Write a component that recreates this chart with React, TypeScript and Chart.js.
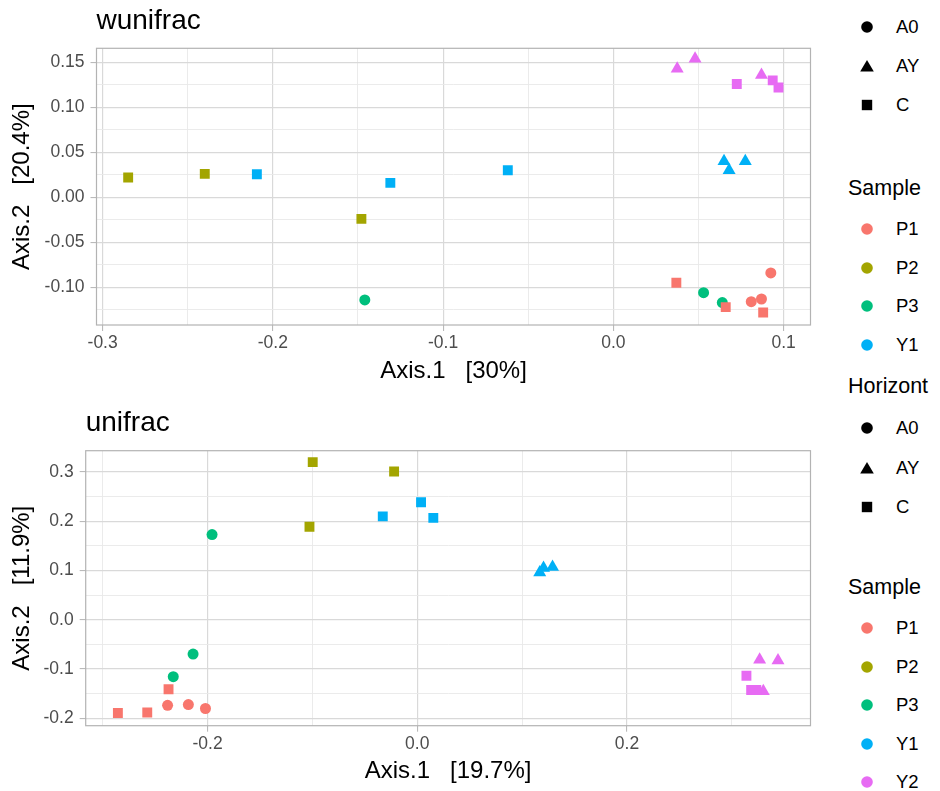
import React, { useEffect, useRef } from 'react';
import { Chart, registerables } from 'chart.js';

Chart.register(...registerables);

const FONT = '"Liberation Sans", Arial, Helvetica, sans-serif';

// ---------- data ----------
const samples = ['P1', 'P2', 'P3', 'Y1', 'Y2'];
const horizons = ['A0', 'AY', 'C'];
const sampleColors = ['#F8766D', '#A3A500', '#00BF7D', '#00B0F6', '#E76BF3'];

// wunifrac ordination: [Axis.1, Axis.2, Horizont]
const wuP1: [number, number, string][] = [
  [0.081, -0.116, 'A0'], [0.087, -0.113, 'A0'], [0.0925, -0.084, 'A0'],
  [0.037, -0.095, 'C'], [0.066, -0.122, 'C'], [0.088, -0.128, 'C'],
];
const wuP2: [number, number, string][] = [
  [-0.285, 0.022, 'C'], [-0.24, 0.026, 'C'], [-0.148, -0.024, 'C'],
];
const wuP3: [number, number, string][] = [
  [-0.146, -0.114, 'A0'], [0.053, -0.106, 'A0'], [0.064, -0.117, 'A0'],
];
const wuY1: [number, number, string][] = [
  [0.065, 0.04, 'AY'], [0.068, 0.03, 'AY'], [0.0775, 0.04, 'AY'],
  [-0.2094, 0.0256, 'C'], [-0.131, 0.016, 'C'], [-0.062, 0.03, 'C'],
];
const wuY2: [number, number, string][] = [
  [0.0375, 0.143, 'AY'], [0.048, 0.154, 'AY'], [0.087, 0.136, 'AY'],
  [0.0725, 0.126, 'C'], [0.0936, 0.13, 'C'], [0.097, 0.122, 'C'],
];

// unifrac ordination
const uP1: [number, number, string][] = [
  [-0.2381, -0.1736, 'A0'], [-0.2183, -0.172, 'A0'], [-0.202, -0.18, 'A0'],
  [-0.2855, -0.189, 'C'], [-0.2575, -0.188, 'C'], [-0.2372, -0.141, 'C'],
];
const uP2: [number, number, string][] = [
  [-0.0997, 0.32, 'C'], [-0.0221, 0.301, 'C'], [-0.1028, 0.189, 'C'],
];
const uP3: [number, number, string][] = [
  [-0.1957, 0.173, 'A0'], [-0.2138, -0.0696, 'A0'], [-0.2327, -0.1155, 'A0'],
];
const uY1: [number, number, string][] = [
  [0.1168, 0.096, 'AY'], [0.1204, 0.105, 'AY'], [0.129, 0.107, 'AY'],
  [0.0036, 0.2385, 'C'], [-0.0329, 0.21, 'C'], [0.0153, 0.2068, 'C'],
];
const uY2: [number, number, string][] = [
  [0.3265, -0.081, 'AY'], [0.344, -0.0824, 'AY'], [0.33, -0.145, 'AY'],
  [0.3139, -0.1135, 'C'], [0.3184, -0.1425, 'C'], [0.3233, -0.1425, 'C'],
];

// ticks
const wuXTicks = [-0.3, -0.2, -0.1, 0, 0.1];
const wuXTickLabels = ['-0.3', '-0.2', '-0.1', '0.0', '0.1'];
const wuXMinor = [-0.25, -0.15, -0.05, 0.05];
const wuYTicks = [-0.1, -0.05, 0, 0.05, 0.1, 0.15];
const wuYTickLabels = ['-0.10', '-0.05', '0.00', '0.05', '0.10', '0.15'];
const wuYMinor = [-0.125, -0.075, -0.025, 0.025, 0.075, 0.125];

const uXTicks = [-0.2, 0, 0.2];
const uXTickLabels = ['-0.2', '0.0', '0.2'];
const uXMinor = [-0.3, -0.1, 0.1, 0.3];
const uYTicks = [-0.2, -0.1, 0, 0.1, 0.2, 0.3];
const uYTickLabels = ['-0.2', '-0.1', '0.0', '0.1', '0.2', '0.3'];
const uYMinor = [-0.15, -0.05, 0.05, 0.15, 0.25];

// ---------- styling helpers ----------
const shapeStyle: Record<string, string> = { A0: 'circle', AY: 'triangle', C: 'rect' };
const shapeRadius: Record<string, number> = { A0: 5.5, AY: 7.5, C: 7 };

function near(list: number[], v: number) {
  return list.findIndex((m) => Math.abs(m - v) < 1e-9);
}

function makeScale(
  axis: 'x' | 'y',
  min: number,
  max: number,
  majors: number[],
  labels: string[],
  minors: number[],
  title: string,
  fit: number,
  titlePad: any,
  tickPad: number
) {
  const all = [...majors, ...minors].sort((a, b) => a - b);
  const isMajor = (c: any) => {
    const v = c && c.tick ? c.tick.value : undefined;
    return v !== undefined && near(majors, v) >= 0;
  };
  return {
    type: 'linear',
    position: axis === 'x' ? 'bottom' : 'left',
    min,
    max,
    afterBuildTicks: (s: any) => {
      s.ticks = all.map((v) => ({ value: v }));
    },
    afterFit: (s: any) => {
      if (axis === 'x') s.height = fit;
      else s.width = fit;
    },
    ticks: {
      autoSkip: false,
      maxRotation: 0,
      minRotation: 0,
      padding: tickPad,
      color: '#4d4d4d',
      font: { size: 17.5, family: FONT },
      callback: (v: number) => {
        const i = near(majors, v);
        return i >= 0 ? labels[i] : '';
      },
    },
    grid: {
      drawOnChartArea: true,
      drawTicks: true,
      tickLength: 6,
      tickWidth: 1,
      color: (c: any) => (isMajor(c) ? '#d9d9d9' : '#e9e9e9'),
      lineWidth: (c: any) => (isMajor(c) ? 1.2 : 0.9),
      tickColor: (c: any) => (isMajor(c) ? '#b3b3b3' : 'rgba(0,0,0,0)'),
    },
    border: { display: false },
    title: {
      display: true,
      text: title,
      color: '#000',
      font: { size: 24, family: FONT },
      padding: titlePad,
    },
  };
}

const panelBorder = {
  id: 'panelBorder',
  beforeDatasetsDraw(chart: any) {
    const { ctx, chartArea: a } = chart;
    ctx.save();
    ctx.strokeStyle = '#b3b3b3';
    ctx.lineWidth = 1.2;
    ctx.strokeRect(a.left, a.top, a.right - a.left, a.bottom - a.top);
    ctx.restore();
  },
};

function buildDatasets(groups: [number, number, string][][]) {
  return samples.map((s, i) => ({
    label: s,
    data: groups[i].map((p) => ({ x: p[0], y: p[1] })),
    pointStyle: groups[i].map((p) => shapeStyle[p[2]]),
    pointRadius: groups[i].map((p) => shapeRadius[p[2]]),
    backgroundColor: sampleColors[i],
    borderColor: sampleColors[i],
    pointBorderWidth: 0,
    showLine: false,
  }));
}

type PanelProps = {
  top: number;
  height: number;
  groups: [number, number, string][][];
  xScale: any;
  yScale: any;
  padTop: number;
  padRight: number;
};

function Panel({ top, height, groups, xScale, yScale, padTop, padRight }: PanelProps) {
  const ref = useRef<HTMLCanvasElement | null>(null);
  useEffect(() => {
    if (!ref.current) return;
    const chart = new Chart(ref.current, {
      type: 'scatter',
      data: { datasets: buildDatasets(groups) as any },
      options: {
        animation: false,
        responsive: false,
        maintainAspectRatio: false,
        events: [],
        layout: { padding: { top: padTop, right: padRight, left: 0, bottom: 0 } },
        plugins: { legend: { display: false }, tooltip: { enabled: false }, title: { display: false } },
        scales: { x: xScale, y: yScale },
      } as any,
      plugins: [panelBorder],
    });
    return () => chart.destroy();
  }, []);
  return (
    <canvas
      ref={ref}
      width={840}
      height={height}
      style={{ position: 'absolute', left: 0, top, width: 840, height }}
    />
  );
}

function ShapeIcon({ kind, color, cx, cy }: { kind: string; color: string; cx: number; cy: number }) {
  const s = 18;
  let el: any;
  if (kind === 'circle') el = <circle cx={9} cy={9} r={5.8} fill={color} />;
  else if (kind === 'triangle') el = <polygon points="9,3 15.8,14.5 2.2,14.5" fill={color} />;
  else el = <rect x={3.8} y={3.8} width={10.4} height={10.4} fill={color} />;
  return (
    <svg width={s} height={s} style={{ position: 'absolute', left: cx - 9, top: cy - 9 }}>
      {el}
    </svg>
  );
}

function LegendItem({ kind, color, label, cy }: { kind: string; color: string; label: string; cy: number }) {
  return (
    <>
      <ShapeIcon kind={kind} color={color} cx={867} cy={cy} />
      <div
        style={{
          position: 'absolute',
          left: 896,
          top: cy - 11,
          height: 22,
          lineHeight: '22px',
          fontSize: 18.5,
          color: '#000',
          whiteSpace: 'nowrap',
        }}
      >
        {label}
      </div>
    </>
  );
}

function LegendTitle({ text, cy }: { text: string; cy: number }) {
  return (
    <div
      style={{
        position: 'absolute',
        left: 848,
        top: cy - 13,
        height: 26,
        lineHeight: '26px',
        fontSize: 21.5,
        color: '#000',
        whiteSpace: 'nowrap',
      }}
    >
      {text}
    </div>
  );
}

export default function App() {
  const topShapesY = [26.5, 65.5, 105];
  const topSampleY = [229, 268, 306, 345];
  const botShapesY = [428, 467.5, 507];
  const botSampleY = [628, 667, 705, 744, 782];
  const shapeKinds = ['circle', 'triangle', 'square'];

  return (
    <div
      style={{
        position: 'absolute',
        left: 0,
        top: 0,
        width: 940,
        height: 791,
        overflow: 'hidden',
        background: '#fff',
        fontFamily: FONT,
      }}
    >
      <Panel
        top={0}
        height={395}
        groups={[wuP1, wuP2, wuP3, wuY1, wuY2]}
        padTop={48.3}
        padRight={29.5}
        xScale={makeScale('x', -0.3036, 0.1158, wuXTicks, wuXTickLabels, wuXMinor, 'Axis.1   [30%]', 70, { top: 0, bottom: 9 }, 2)}
        yScale={makeScale('y', -0.1419, 0.1656, wuYTicks, wuYTickLabels, wuYMinor, 'Axis.2   [20.4%]', 96.5, { top: 8, bottom: 0 }, 6)}
      />
      <Panel
        top={395}
        height={396}
        groups={[uP1, uP2, uP3, uY1, uY2]}
        padTop={55.7}
        padRight={29.5}
        xScale={makeScale('x', -0.3162, 0.375, uXTicks, uXTickLabels, uXMinor, 'Axis.1   [19.7%]', 65.3, { top: 0, bottom: 5 }, 2)}
        yScale={makeScale('y', -0.2149, 0.3432, uYTicks, uYTickLabels, uYMinor, 'Axis.2   [11.9%]', 85.7, { top: 8, bottom: 0 }, 6)}
      />

      <div style={{ position: 'absolute', left: 96.5, top: 3.6, fontSize: 28, lineHeight: '32px', color: '#000' }}>
        wunifrac
      </div>
      <div style={{ position: 'absolute', left: 85.7, top: 406, fontSize: 28, lineHeight: '32px', color: '#000' }}>
        unifrac
      </div>

      {horizons.map((h, i) => (
        <LegendItem key={'th' + h} kind={shapeKinds[i]} color="#000" label={h} cy={topShapesY[i]} />
      ))}
      <LegendTitle text="Sample" cy={188} />
      {samples.slice(0, 4).map((s, i) => (
        <LegendItem key={'ts' + s} kind="circle" color={sampleColors[i]} label={s} cy={topSampleY[i]} />
      ))}

      <LegendTitle text="Horizont" cy={386} />
      {horizons.map((h, i) => (
        <LegendItem key={'bh' + h} kind={shapeKinds[i]} color="#000" label={h} cy={botShapesY[i]} />
      ))}
      <LegendTitle text="Sample" cy={587} />
      {samples.map((s, i) => (
        <LegendItem key={'bs' + s} kind="circle" color={sampleColors[i]} label={s} cy={botSampleY[i]} />
      ))}
    </div>
  );
}
